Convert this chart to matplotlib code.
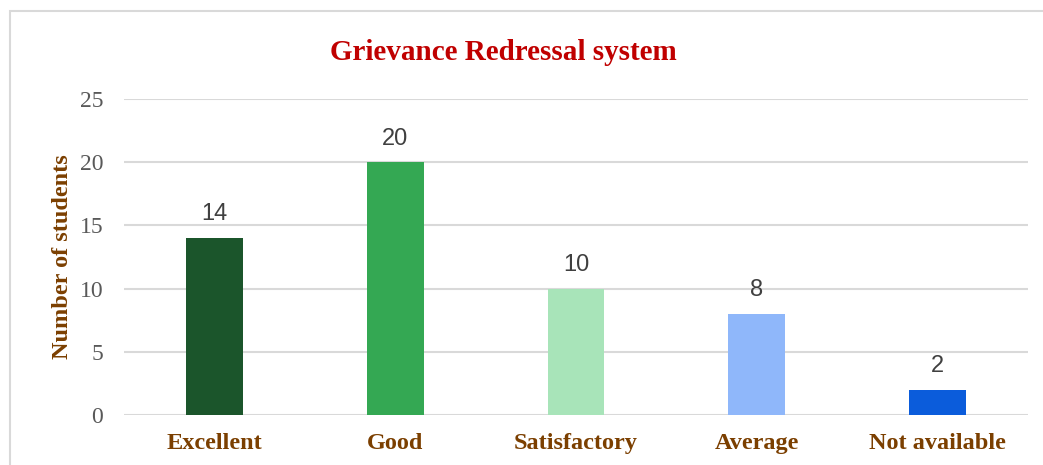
import matplotlib.pyplot as plt
from matplotlib.patches import Rectangle

categories = ["Excellent", "Good", "Satisfactory", "Average", "Not available"]
students = [14, 20, 10, 8, 2]
bar_colors = ["#1B552B", "#34A853", "#A8E4B9", "#8FB7FA", "#0B5CDB"]
yticks = [0, 5, 10, 15, 20, 25]

serif = ["Liberation Serif", "DejaVu Serif"]
sans = ["Liberation Sans", "DejaVu Sans"]
brown = "#7B3F00"

fig = plt.figure(figsize=(10.43, 4.65), dpi=100)
ax = fig.add_axes([0.1189, 0.1075, 0.8667, 0.6795])

# outer chart border (Excel-style), clipped by the image edge
fig.patches.append(Rectangle((10 / 1043, -0.1), 1.2, 1 - 11 / 465 + 0.1,
                             transform=fig.transFigure, fill=False,
                             edgecolor="#D9D9D9", linewidth=1.5))

x = range(len(categories))
bars = ax.bar(x, students, width=0.315, color=bar_colors, zorder=3)
for b, v in zip(bars, students):
    ax.text(b.get_x() + b.get_width() / 2, v + 1.0, str(v), ha="center", va="bottom",
            fontsize=17, color="#404040", family=sans)

ax.set_xlim(-0.5, len(categories) - 0.5)
ax.set_ylim(0, 25)
ax.set_yticks(yticks)
ax.set_yticklabels([str(t) for t in yticks], family=serif, fontsize=17, color="#595959")
ax.set_xticks(list(x))
ax.set_xticklabels(categories, family=serif, fontsize=17.5, fontweight="bold", color=brown)
ax.tick_params(axis="both", length=0)
ax.tick_params(axis="y", pad=15)
ax.tick_params(axis="x", pad=13)
ax.grid(axis="y", color="#D9D9D9", linewidth=1.5, zorder=0)
for s in ax.spines.values():
    s.set_visible(False)

ax.set_ylabel("Number of students", family=serif, fontsize=17.5, fontweight="bold",
              color=brown, labelpad=5)

fig.text(503 / 1043, 1 - 53 / 465, "Grievance Redressal system", ha="center", va="center",
         family=serif, fontsize=21, fontweight="bold", color="#C00000")

fig.savefig("out.png", dpi=100)
